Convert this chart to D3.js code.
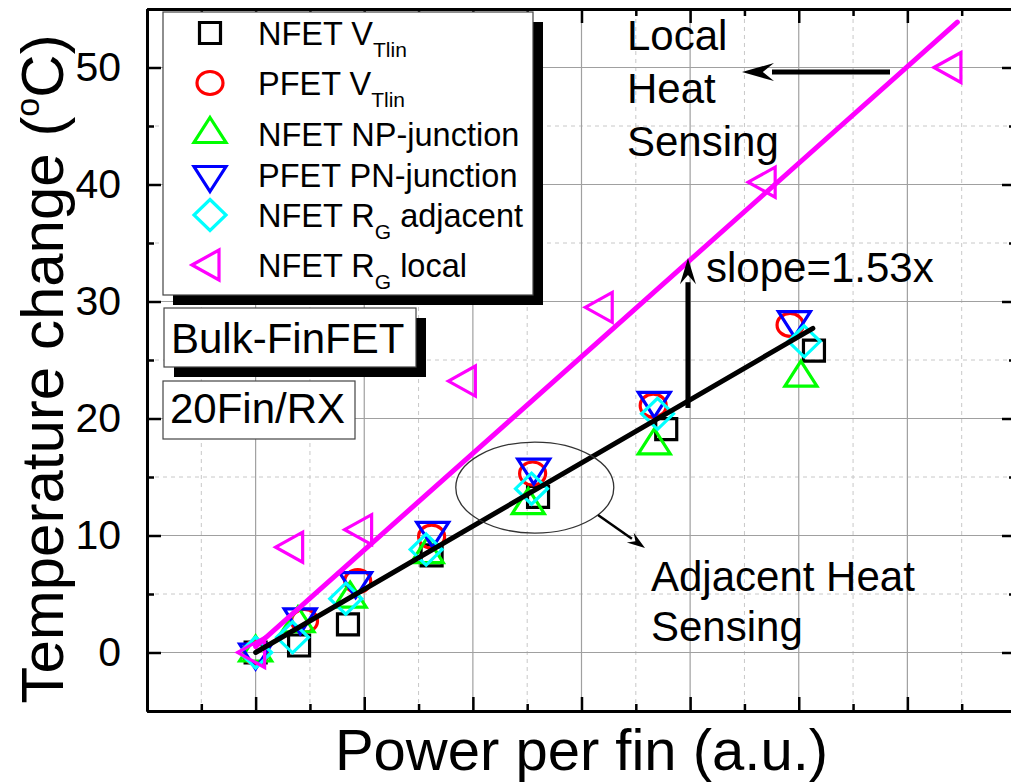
<!DOCTYPE html>
<html>
<head>
<meta charset="utf-8">
<script src="https://cdn.jsdelivr.net/npm/d3@7"></script>
<style>
  html, body { margin: 0; padding: 0; background: #fff; }
  svg text { font-family: "Liberation Sans", Arial, sans-serif; fill: #000; }
</style>
</head>
<body>
<svg id="chart" width="1011" height="782"></svg>
<script>
// ---- data -------------------------------------------------------------
const seriesNames = ["NFET VTlin", "PFET VTlin", "NFET NP-junction", "PFET PN-junction", "NFET RG adjacent", "NFET RG local"];

const nfetVtX = [0, 0.40, 0.85, 1.62, 2.60, 3.78, 5.14];
const nfetVtY = [0, 0.6, 2.4, 8.3, 13.3, 19.1, 25.8];

const pfetVtX = [0, 0.45, 0.94, 1.62, 2.55, 3.66, 4.92];
const pfetVtY = [0, 2.7, 6.1, 9.9, 15.3, 21.1, 28.0];

const nfetNpX = [0, 0.39, 0.87, 1.58, 2.51, 3.67, 5.02];
const nfetNpY = [0, 2.5, 4.6, 8.4, 12.6, 17.7, 23.5];

const pfetPnX = [0, 0.41, 0.92, 1.63, 2.56, 3.67, 4.96];
const pfetPnY = [0, 3.0, 6.1, 10.4, 15.8, 21.5, 28.4];

const nfetRgAdjX = [0, 0.34, 0.83, 1.57, 2.54, 3.70, 5.05];
const nfetRgAdjY = [0, 1.3, 4.6, 8.8, 14.0, 20.4, 26.6];

const nfetRgLocX = [0, 0.35, 0.985, 1.94, 3.20, 4.70, 6.41];
const nfetRgLocY = [0, 9.0, 10.5, 23.2, 29.5, 40.2, 50.0];

// linear fits: adjacent sensing and local sensing (local slope = 1.53x adjacent)
const slopeRatio = 1.53;
const adjacentFit = { slope: 5.40, intercept: 0, xStart: 0, xEnd: 5.13 };
const localFit = { slope: 5.40 * slopeRatio, intercept: 0.5, xStart: 0, xEnd: 6.46 };

const yTicks = [0, 10, 20, 30, 40, 50];
const yTickLabels = ["0", "10", "20", "30", "40", "50"];

// ---- layout -----------------------------------------------------------
const svg = d3.select("#chart");
const x = d3.scaleLinear().domain([-1, 7]).range([147, 1016]);
const y = d3.scaleLinear().domain([-5, 55]).range([711, 9]);

// ---- marker shapes (centroid at the data point) ------------------------
function markerPath(kind) {
  switch (kind) {
    case "square": return "M-10.5,-10.5H10.5V10.5H-10.5Z";
    case "circle": return "M-13,0A13,11.5 0 1,0 13,0A13,11.5 0 1,0 -13,0Z";
    case "up": return "M0,-16.5L16,8.5L-16,8.5Z";
    case "down": return "M0,16.5L16,-8.5L-16,-8.5Z";
    case "diamond": return "M0,-15.5L16,0L0,15.5L-16,0Z";
    case "left": return "M-18,0L9,-15L9,15Z";
  }
}

const series = [
  { name: seriesNames[0], xs: nfetVtX, ys: nfetVtY, color: "#000000", kind: "square" },
  { name: seriesNames[1], xs: pfetVtX, ys: pfetVtY, color: "#ff0000", kind: "circle" },
  { name: seriesNames[2], xs: nfetNpX, ys: nfetNpY, color: "#00ff00", kind: "up" },
  { name: seriesNames[3], xs: pfetPnX, ys: pfetPnY, color: "#0000ff", kind: "down" },
  { name: seriesNames[4], xs: nfetRgAdjX, ys: nfetRgAdjY, color: "#00ffff", kind: "diamond" },
  { name: seriesNames[5], xs: nfetRgLocX, ys: nfetRgLocY, color: "#ff00ff", kind: "left" }
];

// ---- grid -------------------------------------------------------------
const grid = svg.append("g");
const xMajor = d3.range(0, 7, 1);
const xMinor = d3.range(-0.5, 7, 1);
const yMajor = d3.range(0, 51, 10);
const yMinor = d3.range(5, 55, 10);

grid.selectAll(".xminor").data(xMinor).join("line")
  .attr("x1", d => x(d)).attr("x2", d => x(d)).attr("y1", y(-5)).attr("y2", y(55))
  .attr("stroke", "#c8c8c8").attr("stroke-width", 1).attr("stroke-dasharray", "4,4");
grid.selectAll(".yminor").data(yMinor).join("line")
  .attr("y1", d => y(d)).attr("y2", d => y(d)).attr("x1", x(-1)).attr("x2", x(7))
  .attr("stroke", "#c8c8c8").attr("stroke-width", 1).attr("stroke-dasharray", "4,4");
grid.selectAll(".xmajor").data(xMajor).join("line")
  .attr("x1", d => x(d)).attr("x2", d => x(d)).attr("y1", y(-5)).attr("y2", y(55))
  .attr("stroke", "#a0a0a0").attr("stroke-width", 1.2);
grid.selectAll(".ymajor").data(yMajor).join("line")
  .attr("y1", d => y(d)).attr("y2", d => y(d)).attr("x1", x(-1)).attr("x2", x(7))
  .attr("stroke", "#a0a0a0").attr("stroke-width", 1.2);

// ---- axes (inward ticks on all four sides) ----------------------------
function styleAxis(g) {
  g.select(".domain").attr("stroke", "#000").attr("stroke-width", 3);
  g.selectAll(".tick line").attr("stroke", "#000").attr("stroke-width", 2.5);
}
const xMajorTicks = d3.range(-1, 7.01, 1);
const xMinorTicks = d3.range(-0.5, 7, 1);
const yMinorTicks = d3.range(-5, 56, 10);

svg.append("g").attr("transform", `translate(0,${y(-5)})`)
  .call(d3.axisBottom(x).tickValues(xMajorTicks).tickSize(-14).tickSizeOuter(0).tickFormat(""))
  .call(styleAxis);
svg.append("g").attr("transform", `translate(0,${y(-5)})`)
  .call(d3.axisBottom(x).tickValues(xMinorTicks).tickSize(-7).tickSizeOuter(0).tickFormat(""))
  .call(styleAxis);
svg.append("g").attr("transform", `translate(0,${y(55)})`)
  .call(d3.axisTop(x).tickValues(xMajorTicks).tickSize(-14).tickSizeOuter(0).tickFormat(""))
  .call(styleAxis);
svg.append("g").attr("transform", `translate(0,${y(55)})`)
  .call(d3.axisTop(x).tickValues(xMinorTicks).tickSize(-7).tickSizeOuter(0).tickFormat(""))
  .call(styleAxis);

const yAxisL = svg.append("g").attr("transform", `translate(${x(-1)},0)`)
  .call(d3.axisLeft(y).tickValues(yTicks).tickSize(-14).tickSizeOuter(0).tickPadding(26)
    .tickFormat((d, i) => yTickLabels[i]))
  .call(styleAxis);
yAxisL.selectAll(".tick text").attr("font-size", 41).attr("font-family", "Liberation Sans, Arial, sans-serif").attr("fill", "#000");
svg.append("g").attr("transform", `translate(${x(-1)},0)`)
  .call(d3.axisLeft(y).tickValues(yMinorTicks).tickSize(-7).tickSizeOuter(0).tickFormat(""))
  .call(styleAxis);
svg.append("g").attr("transform", `translate(${x(7)},0)`)
  .call(d3.axisRight(y).tickValues(yTicks).tickSize(-14).tickSizeOuter(0).tickFormat(""))
  .call(styleAxis);
svg.append("g").attr("transform", `translate(${x(7)},0)`)
  .call(d3.axisRight(y).tickValues(yMinorTicks).tickSize(-7).tickSizeOuter(0).tickFormat(""))
  .call(styleAxis);

// ---- data markers -----------------------------------------------------
const marks = svg.append("g");
series.forEach(s => {
  marks.append("g").selectAll("path").data(s.xs.map((v, i) => [v, s.ys[i]])).join("path")
    .attr("d", markerPath(s.kind))
    .attr("transform", d => `translate(${x(d[0])},${y(d[1])})`)
    .attr("fill", "none").attr("stroke", s.color).attr("stroke-width", 3.2);
});

// ---- fit lines --------------------------------------------------------
const fitLine = d3.line().x(d => x(d[0])).y(d => y(d[1]));
function fitPoints(f) {
  return [f.xStart, f.xEnd].map(v => [v, f.intercept + f.slope * v]);
}
svg.append("path").attr("d", fitLine(fitPoints(localFit)))
  .attr("stroke", "#ff00ff").attr("stroke-width", 5).attr("fill", "none").attr("stroke-linecap", "round");
svg.append("path").attr("d", fitLine(fitPoints(adjacentFit)))
  .attr("stroke", "#000").attr("stroke-width", 5).attr("fill", "none").attr("stroke-linecap", "round");

// ---- annotations ------------------------------------------------------
function arrow(x1, y1, x2, y2, width, headLen, headHalf) {
  const ang = Math.atan2(y2 - y1, x2 - x1);
  const bx = x2 - headLen * Math.cos(ang), by = y2 - headLen * Math.sin(ang);
  svg.append("line").attr("x1", x1).attr("y1", y1).attr("x2", bx + 2 * Math.cos(ang)).attr("y2", by + 2 * Math.sin(ang))
    .attr("stroke", "#000").attr("stroke-width", width);
  const px = -Math.sin(ang), py = Math.cos(ang);
  svg.append("path")
    .attr("d", `M${x2},${y2}L${bx + px * headHalf},${by + py * headHalf}L${bx + 0.35 * headLen * Math.cos(ang)},${by + 0.35 * headLen * Math.sin(ang)}L${bx - px * headHalf},${by - py * headHalf}Z`)
    .attr("fill", "#000");
}

// adjacent sensing ellipse around the middle cluster
svg.append("ellipse").attr("cx", x(2.57)).attr("cy", y(14.1)).attr("rx", 79).attr("ry", 45.5)
  .attr("fill", "none").attr("stroke", "#333").attr("stroke-width", 1.3);
arrow(598, 515, 645, 548, 2.5, 18, 6);

// slope arrow between the two fits
arrow(x(3.98), y(20.9), x(3.98), y(33.7), 5, 26, 8);
svg.append("text").attr("x", 706).attr("y", 282).attr("font-size", 42).text("slope=1.53x");

// local sensing arrow
arrow(890, 72, 742, 72, 5, 32, 9);
const loc = svg.append("text").attr("font-size", 42);
["Local", "Heat", "Sensing"].forEach((t, i) =>
  loc.append("tspan").attr("x", 627).attr("y", 50 + i * 53).text(t));

const adj = svg.append("text").attr("font-size", 42);
["Adjacent Heat", "Sensing"].forEach((t, i) =>
  adj.append("tspan").attr("x", 651).attr("y", 591 + i * 50).text(t));

// boxed labels
svg.append("rect").attr("x", 174).attr("y", 318).attr("width", 252).attr("height", 59).attr("fill", "#000");
svg.append("rect").attr("x", 164).attr("y", 308).attr("width", 252).attr("height", 59)
  .attr("fill", "#fff").attr("stroke", "#444").attr("stroke-width", 1.2);
svg.append("text").attr("x", 171).attr("y", 353).attr("font-size", 42).text("Bulk-FinFET");

svg.append("rect").attr("x", 163).attr("y", 381).attr("width", 192).attr("height", 58)
  .attr("fill", "#fff").attr("stroke", "#444").attr("stroke-width", 1.2);
svg.append("text").attr("x", 170).attr("y", 423).attr("font-size", 42).text("20Fin/RX");

// ---- legend -----------------------------------------------------------
const legendBaselines = [45, 95, 146, 187, 227, 277];
const leg = svg.append("g");
leg.append("rect").attr("x", 173).attr("y", 22).attr("width", 370).attr("height", 283).attr("fill", "#000");
leg.append("rect").attr("x", 163).attr("y", 12).attr("width", 370).attr("height", 283)
  .attr("fill", "#fff").attr("stroke", "#444").attr("stroke-width", 1.2);

const legendLabels = [
  [["NFET V", 0], ["Tlin", 1]],
  [["PFET V", 0], ["Tlin", 1]],
  [["NFET NP-junction", 0]],
  [["PFET PN-junction", 0]],
  [["NFET R", 0], ["G", 1], [" adjacent", 0]],
  [["NFET R", 0], ["G", 1], [" local", 0]]
];
series.forEach((s, i) => {
  const by = legendBaselines[i];
  leg.append("path").attr("d", markerPath(s.kind))
    .attr("transform", `translate(210,${by - 12})`)
    .attr("fill", "none").attr("stroke", s.color).attr("stroke-width", 3.2);
  const t = leg.append("text").attr("x", 258).attr("y", by).attr("font-size", 32.5).attr("xml:space", "preserve");
  legendLabels[i].forEach(([str, sub]) => {
    t.append("tspan").attr("y", sub ? by + 12 : by).attr("font-size", sub ? 21 : 32.5).text(str);
  });
});

// ---- axis titles ------------------------------------------------------
svg.append("text").attr("x", x(3)).attr("y", 770).attr("text-anchor", "middle")
  .attr("font-size", 58).text("Power per fin (a.u.)");

const yt = svg.append("text").attr("transform", `translate(63,369) rotate(-90)`)
  .attr("text-anchor", "middle").attr("font-size", 60);
yt.append("tspan").text("Temperature change (");
yt.append("tspan").attr("font-size", 34).attr("dy", -24).text("o");
yt.append("tspan").attr("dy", 24).text("C)");
</script>
</body>
</html>
